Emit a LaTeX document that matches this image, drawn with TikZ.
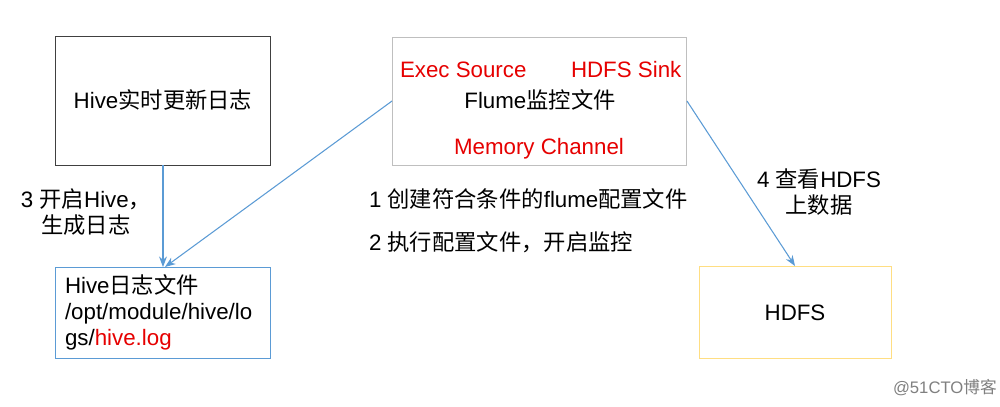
\documentclass[tikz,border=0pt]{standalone}
\usepackage{fontspec}
\setmainfont{Liberation Sans}
\newfontfamily\cjk{Noto Sans CJK SC}
\usetikzlibrary{arrows.meta}
\newcommand{\zh}[1]{{\cjk #1}}
\definecolor{lineblue}{RGB}{91,155,213}
\definecolor{redtxt}{RGB}{230,0,0}
\definecolor{boxgray}{RGB}{191,191,191}
\definecolor{boxdark}{RGB}{64,64,64}
\definecolor{boxyellow}{RGB}{255,222,130}
\begin{document}
\begin{tikzpicture}[x=0.02cm,y=-0.02cm,
  every node/.style={font=\fontsize{12.7}{14.8}\selectfont, inner sep=0pt, outer sep=0pt},
  box/.style={draw, line width=0.55pt},
  lbl/.style={anchor=base},
  red/.style={text=redtxt},
  conn/.style={draw=lineblue, line width=0.6pt, -{Stealth[length=6pt,width=4.5pt]}}]
\useasboundingbox (0,0) rectangle (1000,406);
\fill[white] (0,0) rectangle (1000,406);
% boxes
\node[box, draw=boxdark, minimum width=4.32cm, minimum height=2.58cm] (hive) at (163,100.5) {};
\node[lbl] (hivet) at (163,108) {Hive\zh{实时更新日志}};
\node[box, draw=boxgray, minimum width=5.9cm, minimum height=2.56cm] (flume) at (539.5,101) {};
\node[lbl, anchor=base west, red] (exec) at (400,77) {Exec Source};
\node[lbl, anchor=base west, red] (sink) at (571,77) {HDFS Sink};
\node[lbl] (flumet) at (540,108) {Flume\zh{监控文件}};
\node[lbl, red] (mem) at (539,154) {Memory Channel};
\node[box, draw=lineblue, minimum width=4.32cm, minimum height=1.82cm, text width=3.92cm, inner xsep=0.2cm, align=left] (log) at (163,312.5)
  {Hive\zh{日志文件}\\/opt/module/hive/lo\\gs/\textcolor{redtxt}{hive.log}};
\node[box, draw=boxyellow, minimum width=3.84cm, minimum height=1.84cm] (hdfs) at (795,312) {};
\node[lbl] (hdfst) at (795,320) {HDFS};
% labels
\node[lbl, align=center] (l3) at (86,233) {3 \zh{开启}Hive\zh{，}\\\zh{生成日志}};
\node[lbl, anchor=base west] (l1) at (369,207) {1 \zh{创建符合条件的}flume\zh{配置文件}};
\node[lbl, anchor=base west] (l2) at (369,250) {2 \zh{执行配置文件，开启监控}};
\node[lbl, align=center] (l4) at (819,213) {4 \zh{查看}HDFS\\\zh{上数据}};
\node[lbl, anchor=base west, text=gray, font=\fontsize{9.5}{11}\selectfont] (wm) at (893,393) {@51CTO\zh{博客}};
% connectors
\draw[conn] (hive.south) -- (log.north);
\draw[conn] (flume.west) -- ([xshift=0.04cm]log.north);
\draw[conn] (flume.east) -- (hdfs.north);
\end{tikzpicture}
\end{document}
